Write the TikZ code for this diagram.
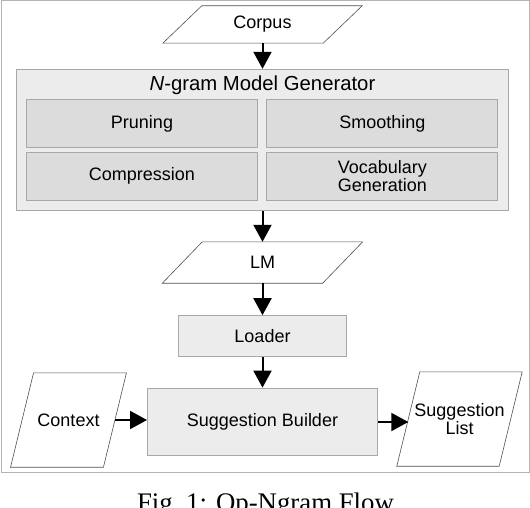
\documentclass[tikz,border=0pt]{standalone}
\usepackage{fontspec}
\setmainfont{Liberation Sans}
\newfontfamily\capfont{Liberation Serif}
\usetikzlibrary{arrows.meta,calc}
\definecolor{framecol}{HTML}{B4B4B4}
\definecolor{boxline}{HTML}{A8A8A8}
\definecolor{lightfill}{HTML}{ECECEC}
\definecolor{subfill}{HTML}{DCDCDC}
\definecolor{ioline}{HTML}{505050}
\tikzset{
  txt/.style={font=\fontsize{18pt}{15.5pt}\selectfont, align=center, inner sep=0pt},
  genbox/.style={draw=boxline, fill=lightfill, line width=1pt, inner sep=0pt},
  subbox/.style={txt, draw=boxline, fill=subfill, line width=1pt, minimum width=231pt, minimum height=47.5pt},
  procbox/.style={txt, draw=boxline, fill=lightfill, line width=1pt},
  iotext/.style={txt},
  ioshape/.style={draw=ioline, fill=white, line width=0.6pt},
  arr/.style={line width=2pt, -{Triangle[length=17pt,width=18pt]}, shorten >=0pt}
}
\begin{document}
\begin{tikzpicture}[x=1pt,y=-1pt]
\useasboundingbox (0,0) rectangle (530,508);
\clip (0,0) rectangle (530,508);
% outer frame
\node[draw=framecol, line width=1pt, minimum width=528pt, minimum height=471pt, inner sep=0pt] (frame) at (265,236.5) {};
% Corpus
\node[iotext, minimum width=160pt, minimum height=37pt] (corpus) at (262.5,24.5) {};
\draw[ioshape] ([xshift=19.5pt]corpus.north west) -- ([xshift=19.5pt]corpus.north east) -- ([xshift=-19.5pt]corpus.south east) -- ([xshift=-19.5pt]corpus.south west) -- cycle;
\node[iotext] at (corpus) {Corpus};
% Generator
\node[genbox, minimum width=492.5pt, minimum height=141.4pt] (gen) at (262.5,140) {};
\node[font=\fontsize{20.3pt}{22pt}\selectfont, inner sep=0pt] (gentitle) at (262.5,85) {\textit{N}-gram Model Generator};
\node[subbox] (prun) at (142,123.7) {Pruning};
\node[subbox] (smooth) at (382.3,123.7) {Smoothing};
\node[subbox, minimum height=48pt] (comp) at (142,176.3) {Compression};
\node[subbox, minimum height=48pt] (vocab) at (382.3,176.3) {Vocabulary\\Generation};
% LM
\node[iotext, minimum width=160pt, minimum height=41pt] (lm) at (262.5,262.5) {};
\draw[ioshape] ([xshift=20pt]lm.north west) -- ([xshift=20pt]lm.north east) -- ([xshift=-20pt]lm.south east) -- ([xshift=-20pt]lm.south west) -- cycle;
\node[iotext] at (lm) {LM};
% Loader
\node[procbox, minimum width=168pt, minimum height=41.3pt] (loader) at (262.5,336.3) {Loader};
% Suggestion Builder
\node[procbox, minimum width=230pt, minimum height=67.7pt] (sb) at (262.5,422) {Suggestion Builder};
% Context
\node[iotext, minimum width=92.5pt, minimum height=94pt] (ctx) at (68.5,420) {};
\draw[ioshape] ([xshift=11.5pt]ctx.north west) -- ([xshift=11.5pt]ctx.north east) -- ([xshift=-11.5pt]ctx.south east) -- ([xshift=-11.5pt]ctx.south west) -- cycle;
\node[iotext] at (ctx) {Context};
% Suggestion List
\node[iotext, minimum width=102pt, minimum height=94pt] (sl) at (459.5,419) {};
\draw[ioshape] ([xshift=11.5pt]sl.north west) -- ([xshift=11.5pt]sl.north east) -- ([xshift=-11.5pt]sl.south east) -- ([xshift=-11.5pt]sl.south west) -- cycle;
\node[iotext] at (sl) {Suggestion\\List};
% connectors
\draw[arr] (corpus.south) -- (gen.north);
\draw[arr] (gen.south) -- (lm.north);
\draw[arr] (lm.south) -- (loader.north);
\draw[arr] (loader.south) -- (sb.north);
\draw[arr] (ctx.east) -- (ctx.east -| sb.west);
\draw[arr] (sb.east) -- (sb.east -| sl.west);
% caption
\node[font=\capfont\fontsize{26.8pt}{30pt}\selectfont, anchor=base, inner sep=0pt] (cap) at (265.5,511) {Fig.~1: Op-Ngram Flow};
\end{tikzpicture}
\end{document}
